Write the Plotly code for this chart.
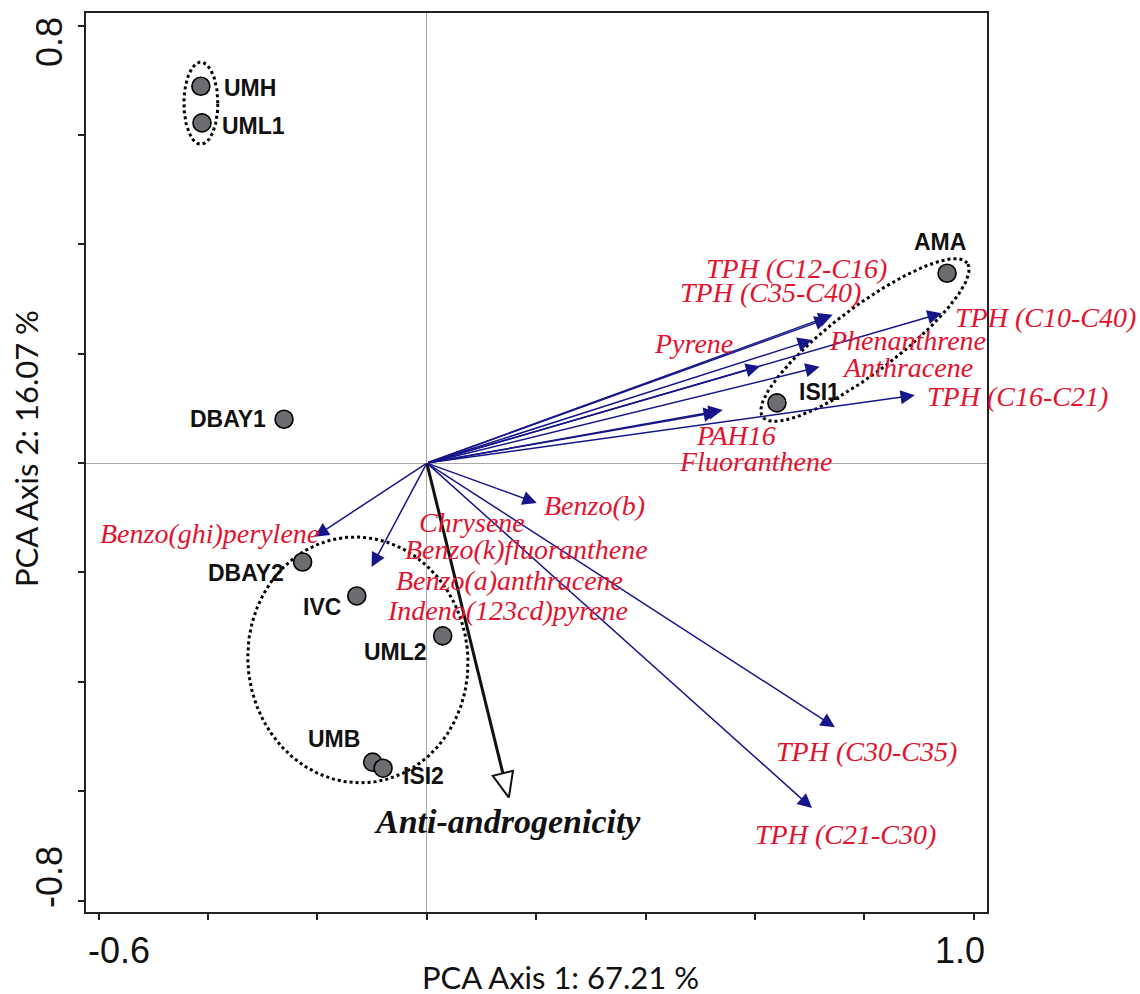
import numpy as np
import plotly.graph_objects as go

# ---- PCA site scores (axis 1, axis 2) ----
sites = ["UMH", "UML1", "AMA", "ISI1", "DBAY1", "DBAY2", "IVC", "UML2", "UMB", "ISI2"]
site_pc1 = [-0.413, -0.411, 0.951, 0.640, -0.261, -0.227, -0.128, 0.029, -0.099, -0.080]
site_pc2 = [0.689, 0.622, 0.347, 0.110, 0.080, -0.181, -0.243, -0.316, -0.547, -0.558]

# ---- variable loadings (arrow tips) ----
variables = ["TPH (C12-C16)", "TPH (C35-C40)", "TPH (C10-C40)", "Phenanthrene", "Pyrene",
             "Anthracene", "TPH (C16-C21)", "PAH16", "Fluoranthene", "Benzo(b)",
             "Benzo(ghi)perylene", "Chrysene", "TPH (C30-C35)", "TPH (C21-C30)"]
var_pc1 = [0.742, 0.735, 0.941, 0.704, 0.609, 0.718, 0.892, 0.541, 0.532, 0.201,
           -0.205, -0.101, 0.746, 0.704]
var_pc2 = [0.271, 0.265, 0.274, 0.225, 0.177, 0.176, 0.124, 0.097, 0.093, -0.073,
           -0.135, -0.190, -0.483, -0.631]

# ---- supplementary response variable ----
response = "Anti-androgenicity"
response_pc1 = 0.150
response_pc2 = -0.612

# ---- variable label texts ----
var_labels = ["TPH (C12-C16)", "TPH (C35-C40)", "Pyrene", "Phenanthrene", "Anthracene",
              "TPH (C10-C40)", "TPH (C16-C21)", "PAH16", "Fluoranthene", "Benzo(b)",
              "Chrysene", "Benzo(k)fluoranthene", "Benzo(a)anthracene",
              "Indeno(123cd)pyrene", "Benzo(ghi)perylene", "TPH (C30-C35)", "TPH (C21-C30)"]

# ---- axis ticks ----
x_ticks = [-0.6, -0.4, -0.2, 0.0, 0.2, 0.4, 0.6, 0.8, 1.0]
y_ticks = [-0.8, -0.6, -0.4, -0.2, 0.0, 0.2, 0.4, 0.6, 0.8]
x_tick_labels = ["-0.6", "1.0"]
y_tick_labels = ["0.8", "-0.8"]
x_title = "PCA Axis 1: 67.21 %"
y_title = "PCA Axis 2: 16.07 %"

# ---- layout helpers (label placement, group outlines) ----
X_RANGE = [-0.623, 1.024]
Y_RANGE = [-0.821, 0.823]

# label anchor and pixel offset for each site name
site_label_style = {
    "UMH": ("left", 21, -2),
    "UML1": ("left", 18, -3),
    "AMA": ("center", -7, 31),
    "ISI1": ("left", 20, 11),
    "DBAY1": ("right", -16, 0),
    "DBAY2": ("center", -57, -11),
    "IVC": ("center", -35, -11),
    "UML2": ("center", -47, -16),
    "UMB": ("center", -39, 23),
    "ISI2": ("center", 40, -8),
}

# anchor position of each variable label: (x, y, horizontal anchor)
var_label_pos = {
    "TPH (C12-C16)": (0.676, 0.356, "center"),
    "TPH (C35-C40)": (0.629, 0.311, "center"),
    "Pyrene": (0.488, 0.219, "center"),
    "Phenanthrene": (0.878, 0.225, "center"),
    "Anthracene": (0.878, 0.174, "center"),
    "TPH (C10-C40)": (0.962, 0.267, "left"),
    "TPH (C16-C21)": (0.910, 0.121, "left"),
    "PAH16": (0.565, 0.051, "center"),
    "Fluoranthene": (0.600, 0.002, "center"),
    "Benzo(b)": (0.307, -0.077, "center"),
    "Chrysene": (0.082, -0.108, "center"),
    "Benzo(k)fluoranthene": (0.183, -0.159, "center"),
    "Benzo(a)anthracene": (0.152, -0.214, "center"),
    "Indeno(123cd)pyrene": (0.148, -0.269, "center"),
    "Benzo(ghi)perylene": (-0.397, -0.128, "center"),
    "TPH (C30-C35)": (0.803, -0.528, "center"),
    "TPH (C21-C30)": (0.766, -0.680, "center"),
}

# dotted group outlines: centre x, centre y, semi-axis a, semi-axis b, rotation (deg)
groups = [
    (-0.413, 0.658, 0.031, 0.075, 0),
    (0.801, 0.225, 0.234, 0.060, 37),
    (-0.126, -0.360, 0.201, 0.225, 6),
]

RED = "#e3132f"
NAVY = "#16168a"


def ellipse(cx, cy, a, b, deg, n=240):
    t = np.linspace(0, 2 * np.pi, n)
    th = np.radians(deg)
    x = cx + a * np.cos(t) * np.cos(th) - b * np.sin(t) * np.sin(th)
    y = cy + a * np.cos(t) * np.sin(th) + b * np.sin(t) * np.cos(th)
    return x, y


fig = go.Figure()

# group outlines
for cx, cy, a, b, deg in groups:
    ex, ey = ellipse(cx, cy, a, b, deg)
    fig.add_trace(go.Scatter(x=ex, y=ey, mode="lines", hoverinfo="skip",
                             line=dict(color="black", width=3, dash="3px,3px")))

# response arrow: shaft + open triangular head
tip = np.array([response_pc1, response_pc2])
d = tip / np.linalg.norm(tip)
nrm = np.array([-d[1], d[0]])
head_len, head_half = 0.046, 0.019
base = tip - head_len * d
fig.add_trace(go.Scatter(x=[0, base[0]], y=[0, base[1]], mode="lines", hoverinfo="skip",
                         line=dict(color="#111111", width=3)))
tri = np.array([tip, base + head_half * nrm, base - head_half * nrm, tip])
fig.add_trace(go.Scatter(x=tri[:, 0], y=tri[:, 1], mode="lines", fill="toself",
                         fillcolor="white", hoverinfo="skip",
                         line=dict(color="#111111", width=2)))

# site points
fig.add_trace(go.Scatter(x=site_pc1, y=site_pc2, mode="markers", text=sites,
                         marker=dict(size=18, color="#6c6c71",
                                     line=dict(color="black", width=1.6))))

annotations = []

# loading vectors
for name, vx, vy in zip(variables, var_pc1, var_pc2):
    annotations.append(dict(x=vx, y=vy, ax=0, ay=0, xref="x", yref="y",
                            axref="x", ayref="y", text="", showarrow=True,
                            arrowhead=2, arrowsize=1.9, arrowwidth=1.5,
                            arrowcolor=NAVY, standoff=0))

# site names
for name, sx, sy in zip(sites, site_pc1, site_pc2):
    anchor, dx, dy = site_label_style[name]
    annotations.append(dict(x=sx, y=sy, xref="x", yref="y", text="<b>%s</b>" % name,
                            showarrow=False, xanchor=anchor, yanchor="middle",
                            xshift=dx, yshift=dy,
                            font=dict(family="Liberation Sans", size=23, color="#111111")))

# variable names
for name in var_labels:
    lx, ly, anchor = var_label_pos[name]
    annotations.append(dict(x=lx, y=ly, xref="x", yref="y", text="<i>%s</i>" % name,
                            showarrow=False, xanchor=anchor, yanchor="middle",
                            font=dict(family="Liberation Serif", size=28, color=RED)))

# response name
annotations.append(dict(x=0.148, y=-0.656, xref="x", yref="y",
                        text="<b><i>%s</i></b>" % response, showarrow=False,
                        xanchor="center", yanchor="middle",
                        font=dict(family="Liberation Serif", size=34, color="#111111")))

# end tick labels
tick_font = dict(family="Liberation Sans", size=36, color="#111111")
annotations.append(dict(x=0, y=0, xref="paper", yref="paper", text=x_tick_labels[0],
                        showarrow=False, xanchor="left", yanchor="top", yshift=-16,
                        font=tick_font))
annotations.append(dict(x=1, y=0, xref="paper", yref="paper", text=x_tick_labels[1],
                        showarrow=False, xanchor="right", yanchor="top", yshift=-16,
                        font=tick_font))
annotations.append(dict(x=-0.0411, y=0.9677, xref="paper", yref="paper",
                        text=y_tick_labels[0], textangle=-90, showarrow=False,
                        xanchor="center", yanchor="middle", font=tick_font))
annotations.append(dict(x=-0.0411, y=0.0389, xref="paper", yref="paper",
                        text=y_tick_labels[1], textangle=-90, showarrow=False,
                        xanchor="center", yanchor="middle", font=tick_font))

# axis titles
title_font = dict(family="Lato", size=31, color="#111111")
annotations.append(dict(x=0.527, y=-0.072, xref="paper", yref="paper", text=x_title,
                        showarrow=False, xanchor="center", yanchor="middle",
                        font=title_font))
annotations.append(dict(x=-0.0666, y=0.516, xref="paper", yref="paper", text=y_title,
                        textangle=-90, showarrow=False, xanchor="center",
                        yanchor="middle", font=title_font))

fig.update_layout(
    width=1140, height=994,
    margin=dict(l=86, r=153, t=13, b=82),
    plot_bgcolor="white", paper_bgcolor="white",
    showlegend=False,
    annotations=annotations,
)

axis_common = dict(showticklabels=False, ticks="outside", ticklen=6, tickwidth=1.5,
                   tickcolor="#222222", showline=True, mirror=True,
                   linecolor="#222222", linewidth=2, showgrid=False,
                   zeroline=True, zerolinecolor="#a8a8a8", zerolinewidth=1)
fig.update_xaxes(range=X_RANGE, tickvals=x_ticks, **axis_common)
fig.update_yaxes(range=Y_RANGE, tickvals=y_ticks, **axis_common)

fig.write_html("out.html")
